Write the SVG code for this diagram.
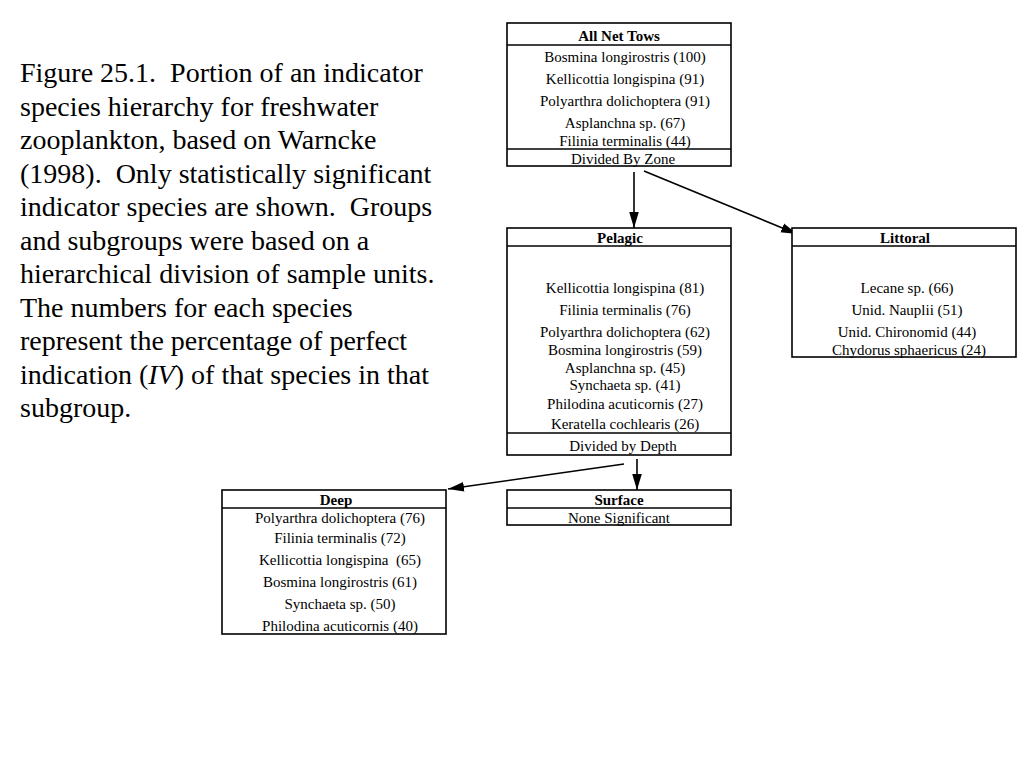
<svg xmlns="http://www.w3.org/2000/svg" width="1024" height="768" viewBox="0 0 1024 768">
<style>
.box{fill:#fff;stroke:#000;stroke-width:1.6}
.ln{stroke:#000;stroke-width:1.6}
.t{font-family:"Liberation Serif","Times New Roman",serif;font-size:15px;text-anchor:middle;fill:#000;white-space:pre}
.h{font-weight:bold}
.cap{font-family:"Liberation Serif","Times New Roman",serif;font-size:28px;fill:#000;white-space:pre}
.con{stroke:#000;stroke-width:1.6;fill:none;marker-end:url(#arr)}
</style>
<defs>
<marker id="arr" viewBox="0 0 10 10" refX="10" refY="5" markerWidth="16" markerHeight="16" markerUnits="userSpaceOnUse" orient="auto">
<path d="M0,2 L10,5 L0,8 z" fill="#000"/>
</marker>
</defs>
<rect width="1024" height="768" fill="#fff"/>
<g id="caption">
<text class="cap" x="20" y="82" xml:space="preserve">Figure 25.1.  Portion of an indicator</text>
<text class="cap" x="20" y="115.5">species hierarchy for freshwater</text>
<text class="cap" x="20" y="149">zooplankton, based on Warncke</text>
<text class="cap" x="20" y="182.5" xml:space="preserve">(1998).  Only statistically significant</text>
<text class="cap" x="20" y="216" xml:space="preserve">indicator species are shown.  Groups</text>
<text class="cap" x="20" y="249.5">and subgroups were based on a</text>
<text class="cap" x="20" y="283">hierarchical division of sample units.</text>
<text class="cap" x="20" y="316.5">The numbers for each species</text>
<text class="cap" x="20" y="350">represent the percentage of perfect</text>
<text class="cap" x="20" y="383.5">indication (<tspan font-style="italic">IV</tspan>) of that species in that</text>
<text class="cap" x="20" y="417">subgroup.</text>
</g>
<g id="connectors">
<line class="con" x1="634" y1="172" x2="634" y2="228"/>
<line class="con" x1="644" y1="171" x2="797" y2="234"/>
<line class="con" x1="624" y1="464" x2="448" y2="489"/>
<line class="con" x1="637" y1="459" x2="637" y2="490"/>
</g>
<g id="all-net-tows">
<rect class="box" x="507" y="23" width="224" height="143"/>
<line class="ln" x1="507" y1="45" x2="731" y2="45"/>
<line class="ln" x1="507" y1="149" x2="731" y2="149"/>
<text class="t h" x="619" y="40.5">All Net Tows</text>
<text class="t" x="625" y="61.5">Bosmina longirostris (100)</text>
<text class="t" x="625" y="83.5">Kellicottia longispina (91)</text>
<text class="t" x="625" y="105.5">Polyarthra dolichoptera (91)</text>
<text class="t" x="625" y="127.5">Asplanchna sp. (67)</text>
<text class="t" x="625" y="145.5">Filinia terminalis (44)</text>
<text class="t" x="623" y="163.5">Divided By Zone</text>
</g>
<g id="pelagic">
<rect class="box" x="507" y="228" width="224" height="227"/>
<line class="ln" x1="507" y1="246" x2="731" y2="246"/>
<line class="ln" x1="507" y1="433" x2="731" y2="433"/>
<text class="t h" x="620" y="242.5">Pelagic</text>
<text class="t" x="625" y="292.5">Kellicottia longispina (81)</text>
<text class="t" x="625" y="314.5">Filinia terminalis (76)</text>
<text class="t" x="625" y="336.5">Polyarthra dolichoptera (62)</text>
<text class="t" x="625" y="354.5">Bosmina longirostris (59)</text>
<text class="t" x="625" y="372.5">Asplanchna sp. (45)</text>
<text class="t" x="625" y="389.5">Synchaeta sp. (41)</text>
<text class="t" x="625" y="408.5">Philodina acuticornis (27)</text>
<text class="t" x="625" y="428.5">Keratella cochlearis (26)</text>
<text class="t" x="623" y="450.5">Divided by Depth</text>
</g>
<g id="littoral">
<rect class="box" x="792" y="228" width="224" height="129"/>
<line class="ln" x1="792" y1="246" x2="1016" y2="246"/>
<text class="t h" x="905" y="242.5">Littoral</text>
<text class="t" x="907" y="292.5">Lecane sp. (66)</text>
<text class="t" x="907" y="314.5">Unid. Nauplii (51)</text>
<text class="t" x="907" y="336.5">Unid. Chironomid (44)</text>
<text class="t" x="909" y="354.5">Chydorus sphaericus (24)</text>
</g>
<g id="deep">
<rect class="box" x="222" y="490" width="224" height="144"/>
<line class="ln" x1="222" y1="508" x2="446" y2="508"/>
<text class="t h" x="336" y="504.5">Deep</text>
<text class="t" x="340" y="522.5">Polyarthra dolichoptera (76)</text>
<text class="t" x="340" y="542.5">Filinia terminalis (72)</text>
<text class="t" x="340" y="564.5" xml:space="preserve">Kellicottia longispina  (65)</text>
<text class="t" x="340" y="586.5">Bosmina longirostris (61)</text>
<text class="t" x="340" y="608.5">Synchaeta sp. (50)</text>
<text class="t" x="340" y="630.5">Philodina acuticornis (40)</text>
</g>
<g id="surface">
<rect class="box" x="507" y="490" width="224" height="35"/>
<line class="ln" x1="507" y1="508" x2="731" y2="508"/>
<text class="t h" x="619" y="504.5">Surface</text>
<text class="t" x="619" y="522.5">None Significant</text>
</g>
</svg>
